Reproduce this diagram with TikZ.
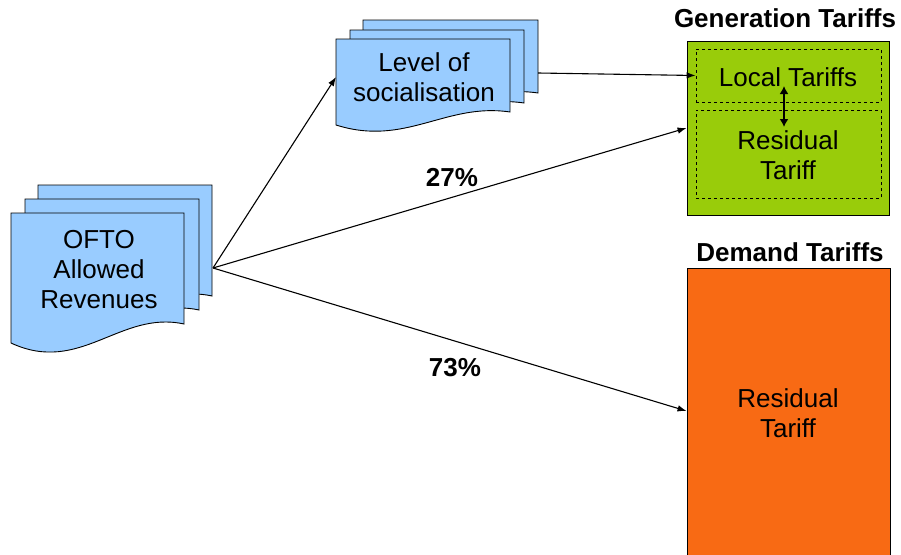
\documentclass[tikz,border=0pt]{standalone}
\usepackage{fontspec}
\setmainfont{Liberation Sans}
\usetikzlibrary{arrows.meta}
\definecolor{docblue}{RGB}{153,204,255}
\definecolor{gengreen}{RGB}{153,204,10}
\definecolor{demorange}{RGB}{248,106,20}
% x y w h a : document page with wavy bottom
\newcommand\docpage[5]{%
  \filldraw[docpagestyle] (#1,#2) -- (#1+#3,#2) -- (#1+#3,#2+#4)
    .. controls (#1+0.63*#3,#2+#4-0.74*#5) and (#1+0.4*#3,#2+#4+2.7*#5) .. (#1,#2+#4+#5) -- cycle;}
\tikzset{
  docpagestyle/.style={fill=docblue, draw=black, line width=0.9pt},
  txt/.style={font=\fontsize{26}{30}\selectfont, align=center, inner sep=0pt},
  ttl/.style={font=\fontsize{26}{30}\selectfont\bfseries, inner sep=0pt},
  arr/.style={-{Latex[length=9pt,width=6.5pt]}, line width=1.1pt},
  dashbox/.style={draw=black, dashed, line width=0.8pt, inner sep=0pt},
}
\begin{document}
\begin{tikzpicture}[x=1pt,y=-1pt]
\useasboundingbox (0,0) rectangle (901,554);
% OFTO stack
\docpage{38}{185}{174}{111}{19}
\docpage{25}{199}{174}{111}{19}
\docpage{11}{213}{173}{111}{19}
\node[txt] (ofto) at (99,270) {OFTO\\Allowed\\Revenues};
\coordinate (oftoout) at (213,268);
% Level of socialisation stack
\docpage{363}{20}{175}{73}{13}
\docpage{350}{30}{174}{73}{13}
\docpage{336}{39}{174}{73}{13}
\node[txt] (lvl) at (424,77) {Level of\\socialisation};
\coordinate (lvlin) at (336,77);
\coordinate (lvlout) at (538,73);
% Generation tariffs
\node[ttl] (gentitle) at (785,18) {Generation Tariffs};
\node[draw=black, fill=gengreen, line width=0.9pt, minimum width=202pt, minimum height=174pt, inner sep=0pt] (gen) at (788,128) {};
\node[dashbox, minimum width=185pt, minimum height=53pt] (loc) at (788.5,75.5) {};
\node[dashbox, minimum width=185pt, minimum height=88pt] (genres) at (788.5,154) {};
\node[txt] (loctxt) at (788,77) {Local Tariffs};
\node[txt] (genrestxt) at (788,155) {Residual\\Tariff};
\draw[{Latex[length=8pt,width=9pt]}-{Latex[length=8pt,width=9pt]}, line width=2.2pt] (784,86) -- (784,127);
% Demand tariffs
\node[ttl] (demtitle) at (790,252) {Demand Tariffs};
\node[draw=black, fill=demorange, line width=0.9pt, minimum width=203pt, minimum height=292pt, inner sep=0pt] (dem) at (788.5,414) {};
\node[txt] (demtxt) at (788,413) {Residual\\Tariff};
% connectors
\draw[arr] (oftoout) -- (lvlin);
\draw[arr] (oftoout) -- (gen.west);
\draw[arr] (oftoout) -- ([yshift=3pt]dem.west);
\draw[arr] (lvlout) -- (loc.west);
\node[ttl] (p27) at (452,178) {27\%};
\node[ttl] (p73) at (455,368) {73\%};
\end{tikzpicture}
\end{document}
